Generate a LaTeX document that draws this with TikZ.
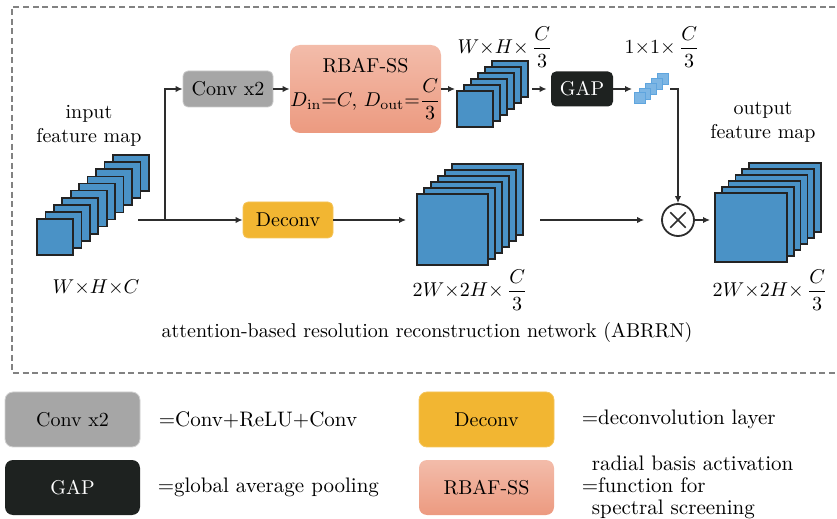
\documentclass[tikz,border=0pt]{standalone}
\usepackage{amsmath}
\usepackage{xcolor}
\usepackage{tikz}
\usetikzlibrary{arrows.meta,positioning}
\definecolor{fmblue}{RGB}{74,146,198}
\definecolor{fmedge}{RGB}{35,35,35}
\definecolor{fmlight}{RGB}{125,182,228}
\definecolor{fmlightedge}{RGB}{95,165,222}
\definecolor{convgray}{RGB}{166,166,166}
\definecolor{deconvorange}{RGB}{242,182,50}
\definecolor{gapblack}{RGB}{30,34,32}
\definecolor{rbaftop}{RGB}{243,188,170}
\definecolor{rbafbot}{RGB}{236,154,128}
\definecolor{arrowgray}{RGB}{45,45,45}
\definecolor{framegray}{RGB}{130,130,130}

\begin{document}
\begin{tikzpicture}[x=0.5pt, y=-0.5pt,
  flow/.style={draw=arrowgray, line width=0.65pt, -{Latex[length=3.5pt,width=3.2pt]}},
  fmap/.style={draw=fmedge, fill=fmblue, line width=0.85pt},
  fmsmall/.style={draw=fmlightedge, fill=fmlight, line width=0.5pt},
  block/.style={rounded corners=2.5pt, minimum width=45pt, minimum height=18pt, inner sep=0pt},
  legbox/.style={rounded corners=4pt, minimum width=67.5pt, minimum height=27.5pt, inner sep=0pt},
  legtext/.style={inner sep=0pt, font=\fontsize{10.5}{11}\selectfont},
]
  \useasboundingbox (0,0) rectangle (837,519);
  % Frame
  \draw[framegray, line width=0.75pt, dash pattern=on 3pt off 1.8pt] (845,7) -- (12,7) -- (12,373) -- (845,373);

  % Input feature map
  \foreach \i in {9,...,1}
    \draw[fmap] (37+8.44*\i, 219-7.1*\i) rectangle ++(36,36);
  \node[fmap, anchor=north west, minimum size=18pt, inner sep=0pt, outer sep=0pt] (inmap) at (37,219) {};
  \node[align=center] (inlabel) at (89,126) {input\\feature map};
  \node (indim) at (96,288) {$W{\times}H{\times}C$};

  % Upper branch
  \node[block, fill=convgray, draw=convgray!60!white] (conv) at (228,89) {Conv x2};
  \node[block, rounded corners=5pt, minimum width=75.5pt, minimum height=44pt,
        top color=rbaftop, bottom color=rbafbot, align=center] (rbaf) at (365.5,89)
        {RBAF-SS\\[2pt]$D_{\mathrm{in}}{=}C,\,D_{\mathrm{out}}{=}\dfrac{C}{3}$};
  \foreach \i in {5,...,1}
    \draw[fmap] (457+7*\i, 91-6*\i) rectangle ++(36,36);
  \node[fmap, anchor=north west, minimum size=18pt, inner sep=0pt, outer sep=0pt] (s2map) at (457,91) {};
  \node (s2dim) at (505,47) {$W{\times}H{\times}\,\dfrac{C}{3}$};
  \node[block, minimum width=31pt, minimum height=17.5pt, fill=gapblack, text=white] (gap) at (582,89) {GAP};
  \foreach \i in {4,...,1}
    \draw[fmsmall] (634+5.75*\i, 93-4.75*\i) rectangle ++(11,11);
  \node[fmsmall, anchor=north west, minimum size=5.5pt, inner sep=0pt, outer sep=0pt] (smap) at (634,93) {};
  \node (sdim) at (662,47) {$1{\times}1{\times}\,\dfrac{C}{3}$};

  % Lower branch
  \node[block, fill=deconvorange, draw=deconvorange!80!white] (deconv) at (288,220) {Deconv};
  \foreach \i in {5,...,1}
    \draw[fmap] (417+7*\i, 194-6*\i) rectangle ++(71,71);
  \node[fmap, anchor=north west, minimum size=35.5pt, inner sep=0pt, outer sep=0pt] (midmap) at (417,194) {};
  \node (middim) at (470,290) {$2W{\times}2H{\times}\,\dfrac{C}{3}$};

  % Product and output
  \node[circle, draw=arrowgray, line width=0.9pt, minimum size=16pt, inner sep=0pt] (mul) at (678,220) {};
  \draw[arrowgray, line width=0.8pt, shorten >=3pt, shorten <=3pt] (mul.45) -- (mul.225);
  \draw[arrowgray, line width=0.8pt, shorten >=3pt, shorten <=3pt] (mul.135) -- (mul.315);
  \foreach \i in {5,...,1}
    \draw[fmap] (715+6.8*\i, 193-6*\i) rectangle ++(72,69);
  \node[fmap, anchor=north west, minimum width=36pt, minimum height=34.5pt, inner sep=0pt, outer sep=0pt] (outmap) at (715,193) {};
  \node[align=center] (outlabel) at (763,122) {output\\feature map};
  \node (outdim) at (770,290) {$2W{\times}2H{\times}\,\dfrac{C}{3}$};

  \node (caption) at (427,333) {attention-based resolution reconstruction network (ABRRN)};

  % Connectors
  \coordinate (inout) at (138,220);
  \coordinate (split) at (165,220);
  \coordinate (s2out) at (532,89);
  \coordinate (sout) at (670,89);
  \coordinate (midout) at (540,220);
  \draw[flow] (inout) -- (deconv.west);
  \draw[flow] (split) |- (conv.west);
  \draw[flow] (conv.east) -- (rbaf.west);
  \draw[flow, shorten >=1pt] (rbaf.east) -- (rbaf.east -| s2map.west);
  \draw[flow, shorten >=2pt] (s2out) -- (gap.west);
  \draw[flow, shorten >=1pt] (gap.east) -- (gap.east -| smap.west);
  \draw[flow] (sout) -| (mul.north);
  \draw[flow, shorten >=5.5pt] (deconv.east) -- (deconv.east -| midmap.west);
  \draw[flow, shorten >=8.5pt] (midout) -- (mul.west);
  \draw[flow, shorten >=2.5pt] (mul.east) -- (mul.east -| outmap.west);

  % Legend
  \node[legbox, fill=convgray, draw=convgray!50!white] (lconv) at (72.5,419.5) {Conv x2};
  \node[legtext, right=9pt of lconv] (lconvtxt) {=Conv+ReLU+Conv};
  \node[legbox, fill=deconvorange, draw=deconvorange!80!white] (ldeconv) at (486.5,419.5) {Deconv};
  \node[legtext, right=13.5pt of ldeconv] (ldeconvtxt) {=deconvolution layer};
  \node[legbox, fill=gapblack, text=white] (lgap) at (72.5,487.5) {GAP};
  \node[legtext, right=8.5pt of lgap] (lgaptxt) {=global average pooling};
  \node[legbox, top color=rbaftop, bottom color=rbafbot] (lrbaf) at (486.5,487.5) {RBAF-SS};
  \node[legtext, align=left, right=13.5pt of lrbaf] (lrbaftxt)
    {\hspace*{5pt}radial basis activation\\=function for\\\hspace*{5pt}spectral screening};
\end{tikzpicture}
\end{document}
